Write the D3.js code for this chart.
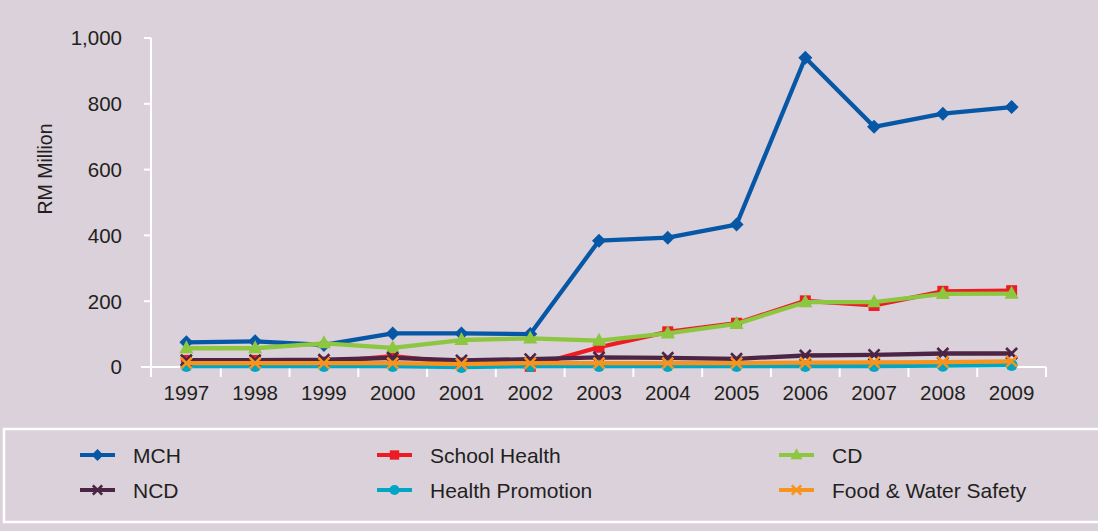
<!DOCTYPE html>
<html><head><meta charset="utf-8">
<script src="https://cdn.jsdelivr.net/npm/d3@7/dist/d3.min.js"></script>
<style>
html,body{margin:0;padding:0;background:#dad1da;}
svg{display:block;}
text{font-family:"Liberation Sans",Arial,sans-serif;fill:#231f20;}
</style></head>
<body><svg id="c" width="1098" height="531"></svg>
<script>
const years = ["1997","1998","1999","2000","2001","2002","2003","2004","2005","2006","2007","2008","2009"];
const mch = [75, 78, 67, 102, 102, 100, 384, 393, 433, 940, 730, 770, 790];
const schoolHealth = [20, 20, 15, 33, 12, 2, 60, 107, 133, 201, 187, 230, 232];
const cd = [57, 57, 72, 58, 82, 87, 80, 102, 131, 197, 197, 222, 223];
const ncd = [21, 21, 22, 28, 20, 24, 29, 28, 25, 35, 37, 41, 41];
const healthPromotion = [3, 3, 3, 3, 0, 3, 3, 3, 3, 3, 3, 4, 6];
const foodWater = [12, 12, 12, 12, 9, 12, 12, 12, 12, 13, 14, 15, 17];
const yTicks = [0, 200, 400, 600, 800, 1000];
const yTitle = "RM Million";

const seriesList = [
  {name:"MCH", values:mch, color:"#0657a6", marker:"diamond"},
  {name:"School Health", values:schoolHealth, color:"#ed1c24", marker:"square"},
  {name:"CD", values:cd, color:"#8dc63f", marker:"triangle"},
  {name:"NCD", values:ncd, color:"#4b2446", marker:"x"},
  {name:"Health Promotion", values:healthPromotion, color:"#00a6c4", marker:"circle"},
  {name:"Food & Water Safety", values:foodWater, color:"#f7941d", marker:"x"}
];
const drawOrder = ["School Health","MCH","CD","Health Promotion","NCD","Food & Water Safety"];

const svg = d3.select("#c");
const x = d3.scaleBand().domain(years).range([152, 1046]);
const y = d3.scaleLinear().domain([0, 1000]).range([367, 38]);
const fs = 20.5;

// y axis
const ya = svg.append("g");
ya.append("line").attr("x1",151).attr("x2",151).attr("y1",y(1000)).attr("y2",377)
  .attr("stroke","#fff").attr("stroke-width",2);
yTicks.forEach(t=>{
  ya.append("line").attr("x1", t===0?141:144).attr("x2",151).attr("y1",y(t)).attr("y2",y(t))
    .attr("stroke","#fff").attr("stroke-width",2);
  ya.append("text").attr("x",122).attr("y",y(t)).attr("dy","0.36em")
    .attr("text-anchor","end").attr("font-size",fs).text(d3.format(",")(t));
});
// x axis
const xa = svg.append("g");
xa.append("line").attr("x1",141).attr("x2",1046).attr("y1",y(0)).attr("y2",y(0))
  .attr("stroke","#fff").attr("stroke-width",2);
years.forEach((yr,i)=>{
  const bx = x(yr) + x.bandwidth();
  xa.append("line").attr("x1",bx).attr("x2",bx).attr("y1",y(0)).attr("y2",377)
    .attr("stroke","#fff").attr("stroke-width",2);
  xa.append("text").attr("x", x(yr)+x.bandwidth()/2).attr("y",400)
    .attr("text-anchor","middle").attr("font-size",fs).text(yr);
});
svg.append("text").attr("transform","translate(52,169) rotate(-90)")
  .attr("text-anchor","middle").attr("font-size",19.5).text(yTitle);

function marker(g, type, cx, cy, color, s){
  if(type==="diamond"){
    g.append("path").attr("d",`M${cx},${cy-7*s}L${cx+7*s},${cy}L${cx},${cy+7*s}L${cx-7*s},${cy}Z`).attr("fill",color);
  } else if(type==="square"){
    g.append("rect").attr("x",cx-5.5*s).attr("y",cy-5.5*s).attr("width",11*s).attr("height",11*s).attr("fill",color);
  } else if(type==="triangle"){
    g.append("path").attr("d",`M${cx},${cy-8*s}L${cx+7*s},${cy+5*s}L${cx-7*s},${cy+5*s}Z`).attr("fill",color);
  } else if(type==="circle"){
    g.append("circle").attr("cx",cx).attr("cy",cy).attr("r",6*s).attr("fill",color);
  } else if(type==="x"){
    const d=5.5*s;
    g.append("path").attr("d",`M${cx-d},${cy-d}L${cx+d},${cy+d}M${cx+d},${cy-d}L${cx-d},${cy+d}`)
      .attr("stroke",color).attr("stroke-width",2.6).attr("fill","none");
  }
}

const line = d3.line().x((d,i)=>x(years[i])+x.bandwidth()/2).y(d=>y(d));
const plot = svg.append("g");
drawOrder.forEach(n=>{
  const s = seriesList.find(q=>q.name===n);
  const g = plot.append("g");
  g.append("path").datum(s.values).attr("d",line).attr("fill","none")
    .attr("stroke",s.color).attr("stroke-width",4.3).attr("stroke-linejoin","round");
  s.values.forEach((v,i)=>marker(g, s.marker, x(years[i])+x.bandwidth()/2, y(v), s.color, 1));
});

// legend
svg.append("rect").attr("x",4).attr("y",429).attr("width",1110).attr("height",93)
  .attr("fill","none").attr("stroke","#fff").attr("stroke-width",2.5);
const colX = [80, 377, 779];
const rowY = [455, 490];
seriesList.forEach((s,i)=>{
  const cx = colX[i%3], cy = rowY[Math.floor(i/3)];
  const g = svg.append("g");
  g.append("line").attr("x1",cx).attr("x2",cx+35).attr("y1",cy).attr("y2",cy)
    .attr("stroke",s.color).attr("stroke-width",4);
  marker(g, s.marker, cx+17.5, cy, s.color, 0.85);
  g.append("text").attr("x",cx+53).attr("y",cy).attr("dy","0.36em").attr("font-size",21).text(s.name);
});
</script></body></html>
